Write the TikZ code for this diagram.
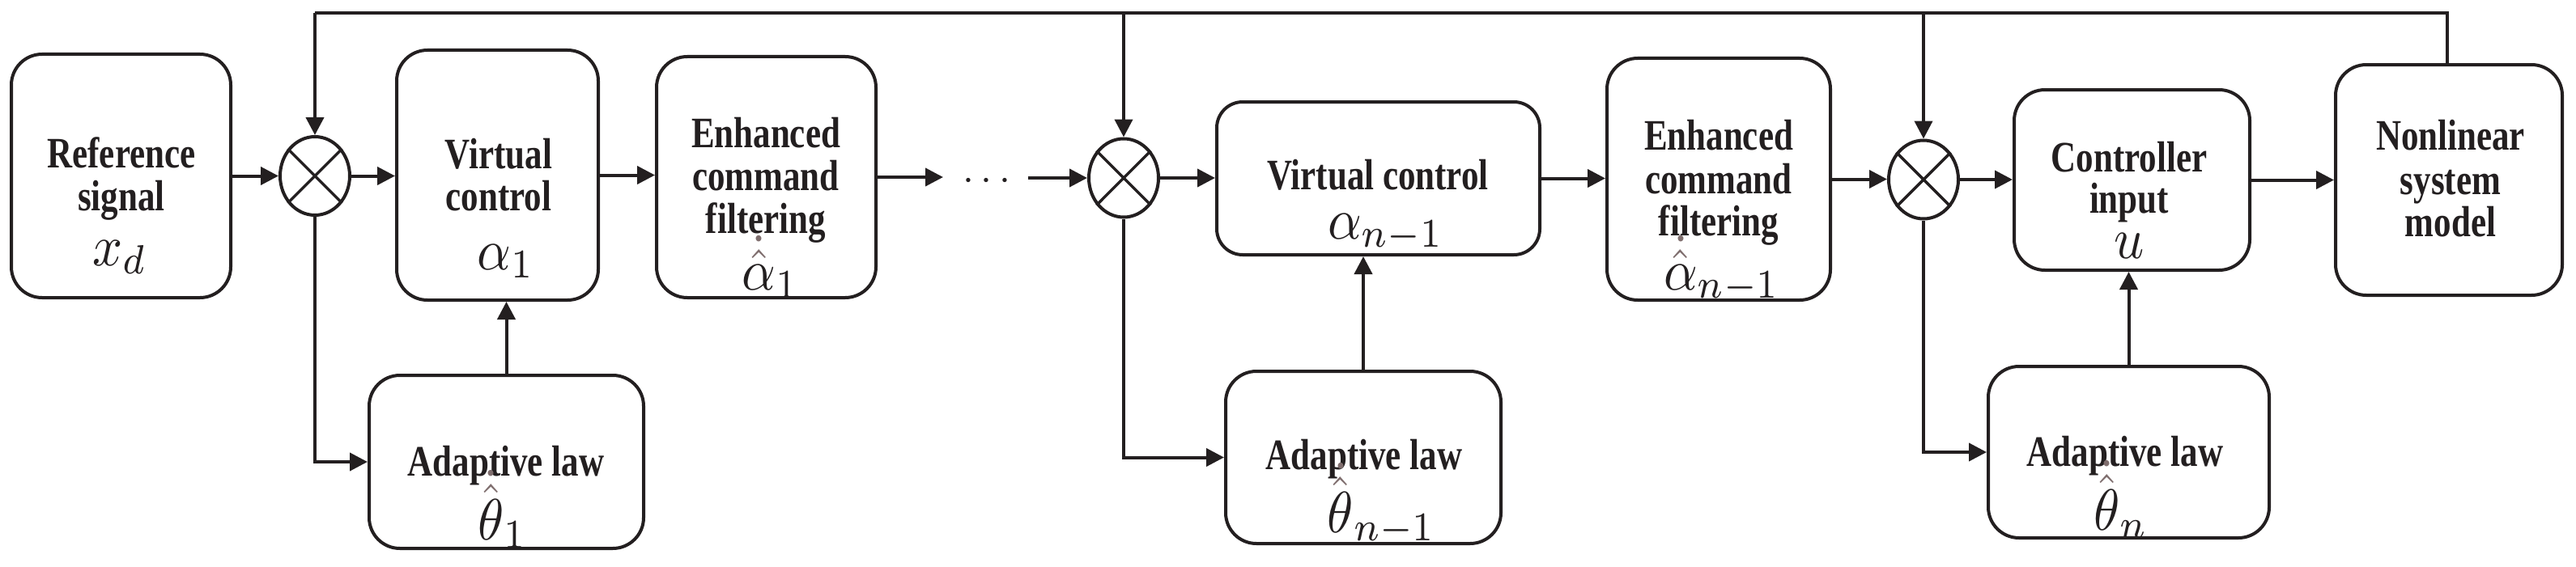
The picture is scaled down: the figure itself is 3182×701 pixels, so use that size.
\documentclass[tikz,border=0pt]{standalone}
\usepackage{fontspec}
\setmainfont{Liberation Serif}
\usepackage{graphicx}
\usetikzlibrary{shapes.geometric,arrows.meta}
\definecolor{acc}{HTML}{7F6E6E}
\definecolor{ink}{HTML}{231F20}
\tikzset{
  blk/.style={draw=ink, line width=4pt, rounded corners=38pt, inner sep=0pt},
  sumnode/.style={draw=ink, line width=4pt, ellipse, minimum width=86pt, minimum height=97pt, inner sep=0pt},
  arr/.style={draw=ink, line width=4pt, -{Triangle[length=22pt,width=22pt]}},
  ln/.style={draw=ink, line width=4pt},
  xline/.style={draw=ink, line width=3.5pt},
  txt/.style={anchor=base, inner sep=0pt, text=ink, font=\fontsize{43}{47}\selectfont\bfseries},
  mth/.style={anchor=base, inner sep=0pt, text=ink, font=\fontsize{10}{12}\selectfont}
}
\newcommand{\TL}[4]{\node[txt] (#1) at (#2,#3) {\scalebox{1}[1.25]{#4}};}
\newcommand{\ML}[4]{\node[mth] (#1) at (#2,#3) {\scalebox{6.5}[7.2]{$#4$}};}
\newcommand{\DHat}[1]{\textcolor{acc}{\dot{\hat{\textcolor{ink}{#1}}}}}
\begin{document}
\begin{tikzpicture}[x=1pt,y=-1pt]
\useasboundingbox (0,0) rectangle (3182,701);
% boxes
\node[blk, minimum width=271pt, minimum height=301pt] (ref) at (149.5,217.5) {};
\node[blk, minimum width=249pt, minimum height=309pt] (vc1) at (614.5,216.5) {};
\node[blk, minimum width=271pt, minimum height=298pt] (ef1) at (946.5,219) {};
\node[blk, minimum width=399pt, minimum height=189pt, rounded corners=32pt] (vcn) at (1702.5,220.5) {};
\node[blk, minimum width=276pt, minimum height=299pt] (efn) at (2123,221.5) {};
\node[blk, minimum width=291pt, minimum height=223pt] (ci) at (2633.5,222.5) {};
\node[blk, minimum width=280pt, minimum height=285pt] (nl) at (3025,222.5) {};
\node[blk, minimum width=339pt, minimum height=214pt] (al1) at (625.5,571) {};
\node[blk, minimum width=340pt, minimum height=213pt] (aln1) at (1684,565.5) {};
\node[blk, minimum width=347pt, minimum height=212pt] (aln) at (2629.5,559) {};
% summing junctions
\node[sumnode] (s1) at (389,217.5) {};
\node[sumnode] (s2) at (1388,220) {};
\node[sumnode] (s3) at (2376,222) {};
\foreach \s in {s1,s2,s3}{
  \draw[xline] (\s.45) -- (\s.225);
  \draw[xline] (\s.135) -- (\s.315);
}
% texts
\TL{t1}{150}{207}{Reference}
\TL{t2}{150}{260}{signal}
\ML{m1}{148}{328}{x_{d}}
\TL{t3}{616}{208}{Virtual}
\TL{t4}{616}{260}{control}
\ML{m2}{625}{333}{\alpha_{1}}
\TL{t5}{946}{182}{Enhanced}
\TL{t6}{946}{235}{command}
\TL{t7}{946}{288}{filtering}
\ML{m3}{952}{358}{\DHat{\alpha}_{1}}
\TL{t8}{1702}{234}{Virtual control}
\ML{m4}{1712}{295}{\alpha_{n-1}}
\TL{t9}{2123}{185}{Enhanced}
\TL{t10}{2123}{239}{command}
\TL{t11}{2123}{291}{filtering}
\ML{m5}{2127}{358}{\DHat{\alpha}_{n-1}}
\TL{t12}{2630}{212}{Controller}
\TL{t13}{2630}{263}{input}
\ML{m6}{2630}{319}{u}
\TL{t14}{3027}{185}{Nonlinear}
\TL{t15}{3027}{240}{system}
\TL{t16}{3027}{292}{model}
\TL{t17}{625}{588}{Adaptive law}
\ML{m7}{621}{667}{\DHat{\theta}_{1}}
\TL{t18}{1685}{580}{Adaptive law}
\ML{m8}{1707}{658}{\DHat{\theta}_{n-1}}
\TL{t19}{2625}{576}{Adaptive law}
\ML{m9}{2620}{655}{\DHat{\theta}_{n}}
\node[mth, anchor=center] (dots) at (1219,224) {\scalebox{5}{$\cdots$}};
% forward path
\coordinate (d1) at (1165,219);
\coordinate (d2) at (1270,220);
\draw[arr] (ref.east) -- (s1.west);
\draw[arr] (s1.east) -- (vc1.west |- s1.east);
\draw[arr] (vc1.east) -- (ef1.west |- vc1.east);
\draw[arr] (ef1.east) -- (d1);
\draw[arr] (d2) -- (s2.west);
\draw[arr] (s2.east) -- (vcn.west |- s2.east);
\draw[arr] (vcn.east) -- (efn.west |- vcn.east);
\draw[arr] (efn.east) -- (s3.west |- efn.east);
\draw[arr] (s3.east) -- (ci.west |- s3.east);
\draw[arr] (ci.east) -- (nl.west |- ci.east);
% feedback
\coordinate (tp0) at (3023,16);
\coordinate (tp1) at (389,16);
\coordinate (tp2) at (1388,16);
\coordinate (tp3) at (2376,16);
\draw[ln] (nl.north -| tp0) -- (tp0) -- (tp1);
\draw[arr] (tp1) -- (s1.north);
\draw[arr] (tp2) -- (s2.north);
\draw[arr] (tp3) -- (s3.north);
% adaptive branches
\draw[arr] (s1.south) |- (al1.west);
\draw[arr] (s2.south) |- (aln1.west);
\draw[arr] (s3.south) |- (aln.west);
\draw[arr] (al1.north) -- (al1.north |- vc1.south);
\draw[arr] (aln1.north) -- (aln1.north |- vcn.south);
\draw[arr] (aln.north) -- (aln.north |- ci.south);
\end{tikzpicture}
\end{document}
